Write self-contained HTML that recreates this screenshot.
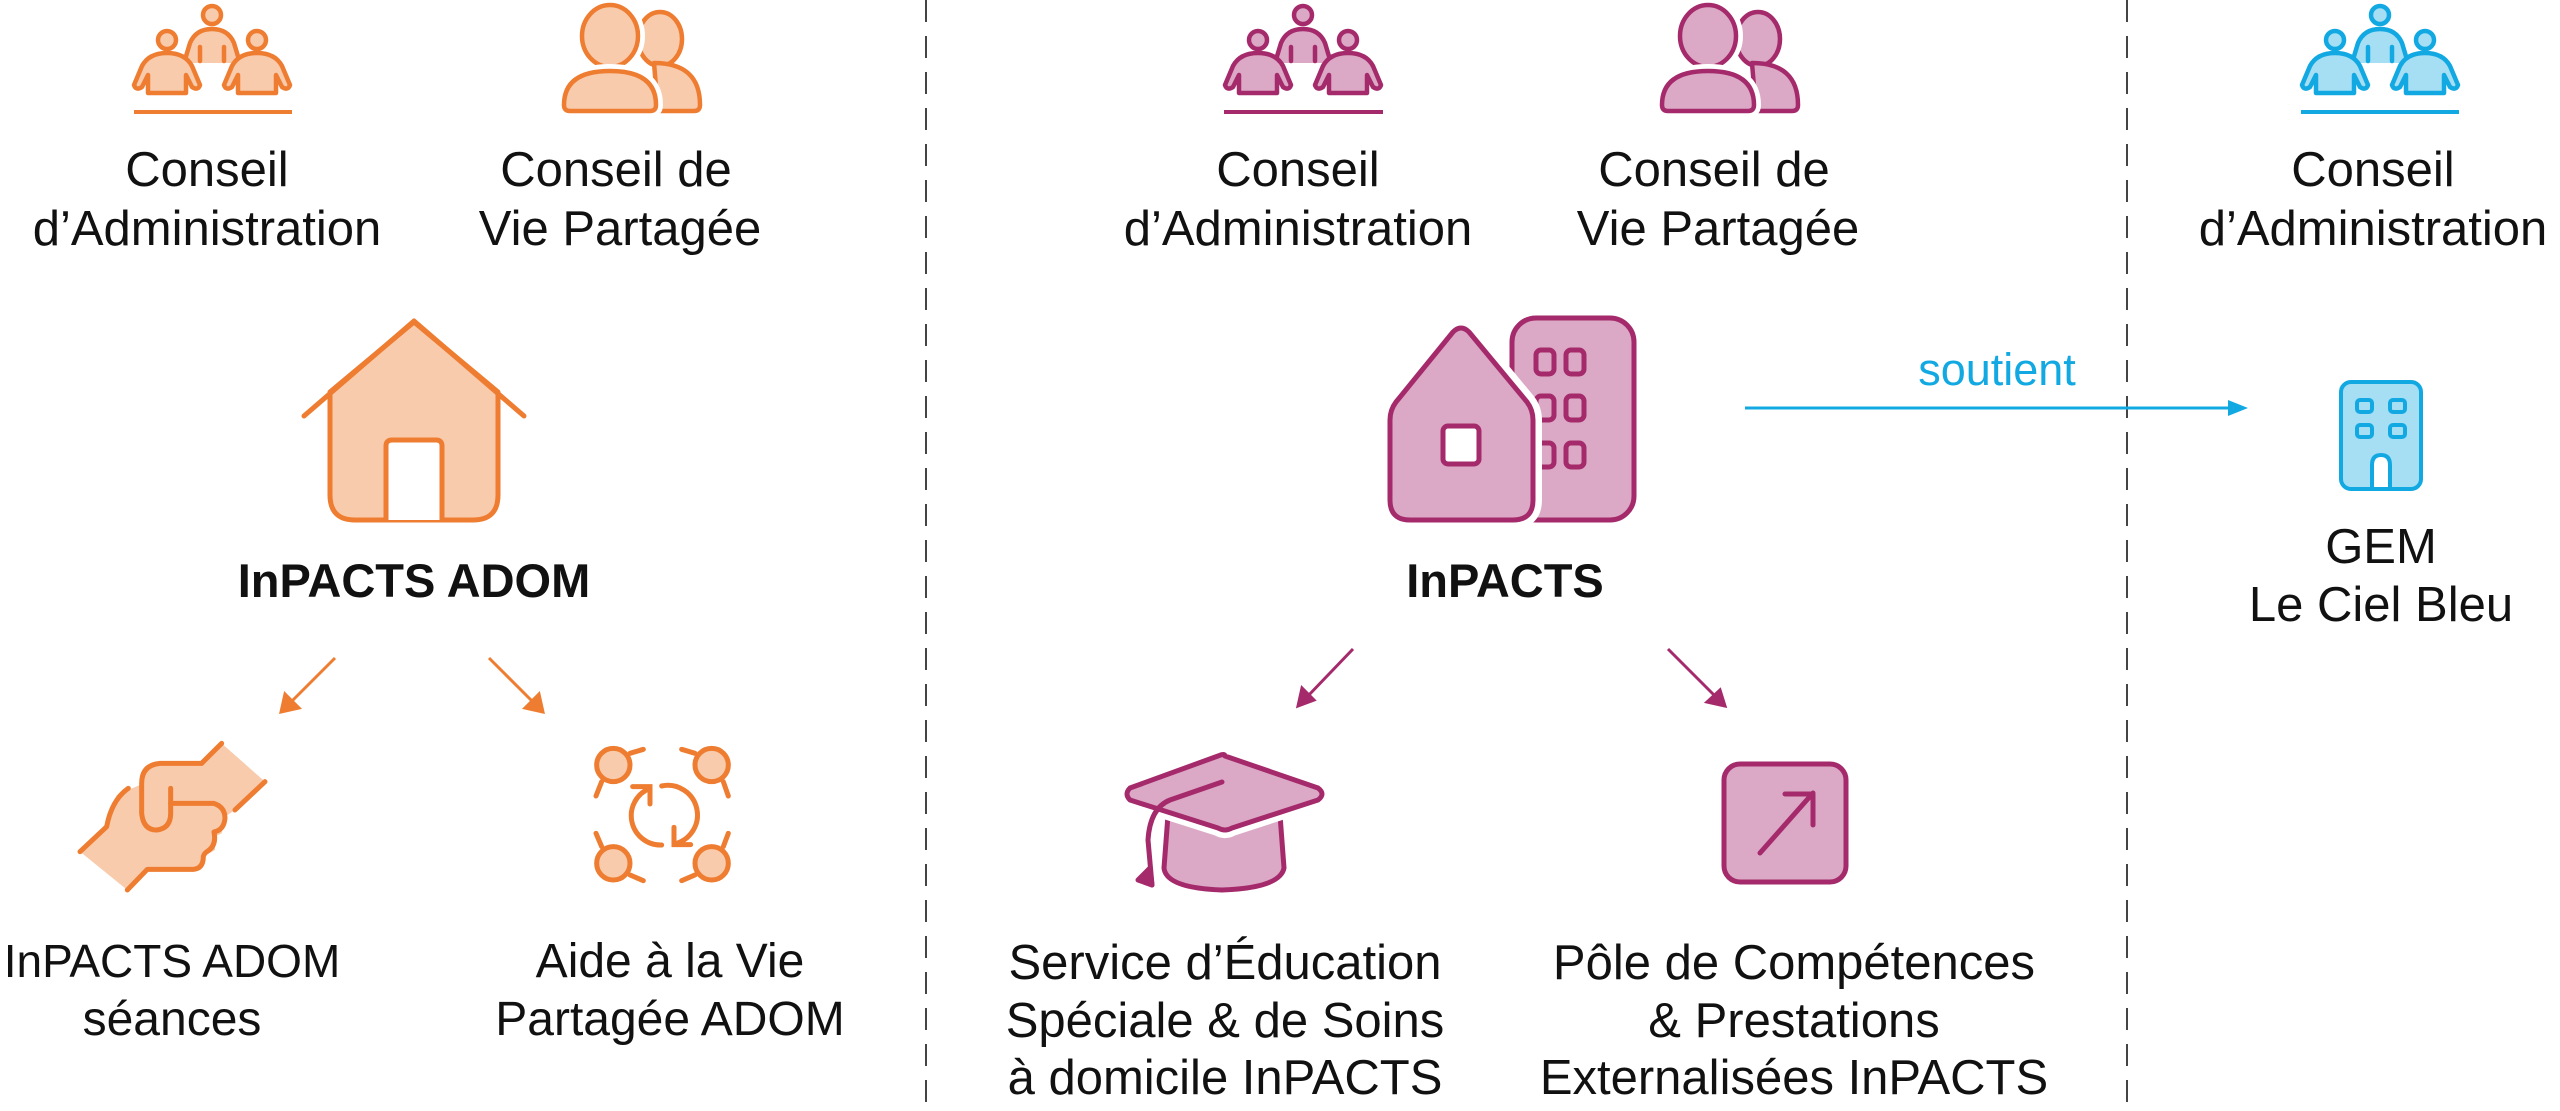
<!DOCTYPE html>
<html><head><meta charset="utf-8"><style>
html,body{margin:0;padding:0;background:#fff;}
svg{display:block;}
text{font-family:"Liberation Sans",sans-serif;fill:#111;}
</style></head><body>
<svg width="2560" height="1111" viewBox="0 0 2560 1111" xmlns="http://www.w3.org/2000/svg">
<defs>
<g id="people">
  <circle cx="0" cy="12" r="9"/>
  <path d="M-28,60 L-22,40 Q-16,26 0,26 Q16,26 22,40 L28,60 M-12,44 L-12,58 M12,44 L12,58"/>
  <circle cx="-45" cy="37" r="9"/>
  <path d="M-78,82 L-70,63 Q-63,50 -45,50 Q-27,50 -20,63 L-12,82 Q-14,88 -20,84 L-26,72 L-26,90 L-64,90 L-64,72 L-70,84 Q-76,88 -78,82 Z"/>
  <circle cx="45" cy="37" r="9"/>
  <path d="M12,82 L20,63 Q27,50 45,50 Q63,50 70,63 L78,82 Q76,88 70,84 L64,72 L64,90 L26,90 L26,72 L20,84 Q14,88 12,82 Z"/>
</g>
</defs>

<!-- dashed separators -->
<line x1="926" y1="0" x2="926" y2="1111" stroke="#444" stroke-width="2" stroke-dasharray="22,14"/>
<line x1="2127" y1="0" x2="2127" y2="1111" stroke="#444" stroke-width="2" stroke-dasharray="22,14"/>

<!-- ===== Left column ===== -->
<g transform="translate(212,3)" fill="#F8CBAD" stroke="#EE7D31" stroke-width="4.5" stroke-linejoin="round" stroke-linecap="round"><use href="#people"/></g>
<line x1="134" y1="112" x2="292" y2="112" stroke="#EE7D31" stroke-width="4"/>
<text x="207" y="186" font-size="49" text-anchor="middle">Conseil</text>
<text x="207" y="245" font-size="49" text-anchor="middle">d’Administration</text>

<g transform="translate(618,85)" stroke-linejoin="round" stroke-linecap="round">
  <ellipse cx="42" cy="-46" rx="22" ry="27" fill="#F8CBAD" stroke="#EE7D31" stroke-width="4.5"/>
  <path d="M36,-22 Q82,-22 82,20 Q82,26 76,26 L40,26 Z" fill="#F8CBAD" stroke="#EE7D31" stroke-width="4.5"/>
  <ellipse cx="-8" cy="-49" rx="28" ry="31" fill="#F8CBAD" stroke="#fff" stroke-width="14"/>
  <ellipse cx="-8" cy="-49" rx="28" ry="31" fill="#F8CBAD" stroke="#EE7D31" stroke-width="4.5"/>
  <path d="M-54,20 Q-54,-14 -8,-14 Q38,-14 38,20 Q38,26 32,26 L-48,26 Q-54,26 -54,20 Z" fill="#F8CBAD" stroke="#fff" stroke-width="14"/>
  <path d="M-54,20 Q-54,-14 -8,-14 Q38,-14 38,20 Q38,26 32,26 L-48,26 Q-54,26 -54,20 Z" fill="#F8CBAD" stroke="#EE7D31" stroke-width="4.5"/>
</g>
<text x="616" y="186" font-size="49" text-anchor="middle">Conseil de</text>
<text x="620" y="245" font-size="49" text-anchor="middle">Vie Partagée</text>

<!-- house -->
<g stroke="#EE7D31" stroke-width="5" stroke-linejoin="round" stroke-linecap="round">
  <path d="M330,392 L414,322 L498,392 L498,495 Q498,520 473,520 L355,520 Q330,520 330,495 Z" fill="#F8CBAD"/>
  <path d="M304,416 L414,321 L524,416" fill="none"/>
  <path d="M386,520 L386,446 Q386,440 392,440 L436,440 Q442,440 442,446 L442,520" fill="#fff"/>
</g>
<text x="414" y="597" font-size="47" font-weight="bold" text-anchor="middle">InPACTS ADOM</text>

<g stroke="#EE7D31" stroke-width="3" fill="#EE7D31">
  <line x1="335" y1="658" x2="289" y2="704"/><path d="M281,712 L285,694 L299,708 Z"/>
  <line x1="489" y1="658" x2="535" y2="704"/><path d="M543,712 L525,708 L539,694 Z"/>
</g>

<!-- handshake -->
<g transform="translate(40,720) scale(0.3333)" stroke="#EE7D31" stroke-width="15" stroke-linejoin="round" stroke-linecap="round">
  <path d="M545,70 L675,185 L585,270 L555,290 L545,340 L525,350 L525,390 L490,410 L475,445 L320,450 L262,510 L120,395 L200,320 L230,225 L300,195 L330,135 L485,130 Z" fill="#F8CBAD" stroke="none"/>
  <path d="M485,130 L545,70 M675,185 L585,270" fill="none"/>
  <path d="M120,395 L200,320 Q215,240 265,205" fill="none"/>
  <path d="M485,130 L360,130 Q305,135 305,190 L305,280 Q310,330 350,330 Q392,325 392,280 L392,205" fill="none"/>
  <path d="M392,250 L520,250 Q555,260 555,295 Q552,330 522,336 Q530,375 505,392 Q492,400 490,410 Q490,446 460,448 L322,448 L262,510" fill="none"/>
</g>
<text x="172" y="977" font-size="46" text-anchor="middle">InPACTS ADOM</text>
<text x="172" y="1035" font-size="48" text-anchor="middle">séances</text>

<!-- network -->
<g transform="translate(570,720) scale(0.3333)" stroke="#EE7D31" stroke-width="15" stroke-linecap="round" fill="none">
  <circle cx="130" cy="135" r="50" fill="#F8CBAD"/>
  <circle cx="425" cy="135" r="50" fill="#F8CBAD"/>
  <circle cx="130" cy="430" r="50" fill="#F8CBAD"/>
  <circle cx="425" cy="430" r="50" fill="#F8CBAD"/>
  <path d="M180,100 L220,88 M95,185 L78,228 M375,100 L335,88 M460,185 L475,228 M95,380 L78,340 M180,465 L220,482 M460,380 L475,340 M375,465 L335,482"/>
  <path d="M240,205 A88,88 0 0 0 275,375"/>
  <path d="M188,200 L240,200 L240,252"/>
  <path d="M275,198 A88,88 0 0 1 312,372"/>
  <path d="M312,322 L312,374 L362,374"/>
</g>
<text x="670" y="977" font-size="48" text-anchor="middle">Aide à la Vie</text>
<text x="670" y="1035" font-size="48" text-anchor="middle">Partagée ADOM</text>

<!-- ===== Middle column ===== -->
<g transform="translate(1303,3)" fill="#DBA9C5" stroke="#A52A6B" stroke-width="4.5" stroke-linejoin="round" stroke-linecap="round"><use href="#people"/></g>
<line x1="1224" y1="112" x2="1383" y2="112" stroke="#A52A6B" stroke-width="4"/>
<text x="1298" y="186" font-size="49" text-anchor="middle">Conseil</text>
<text x="1298" y="245" font-size="49" text-anchor="middle">d’Administration</text>

<g transform="translate(1716,85)" stroke-linejoin="round" stroke-linecap="round">
  <ellipse cx="42" cy="-46" rx="22" ry="27" fill="#DBA9C5" stroke="#A52A6B" stroke-width="4.5"/>
  <path d="M36,-22 Q82,-22 82,20 Q82,26 76,26 L40,26 Z" fill="#DBA9C5" stroke="#A52A6B" stroke-width="4.5"/>
  <ellipse cx="-8" cy="-49" rx="28" ry="31" fill="#DBA9C5" stroke="#fff" stroke-width="14"/>
  <ellipse cx="-8" cy="-49" rx="28" ry="31" fill="#DBA9C5" stroke="#A52A6B" stroke-width="4.5"/>
  <path d="M-54,20 Q-54,-14 -8,-14 Q38,-14 38,20 Q38,26 32,26 L-48,26 Q-54,26 -54,20 Z" fill="#DBA9C5" stroke="#fff" stroke-width="14"/>
  <path d="M-54,20 Q-54,-14 -8,-14 Q38,-14 38,20 Q38,26 32,26 L-48,26 Q-54,26 -54,20 Z" fill="#DBA9C5" stroke="#A52A6B" stroke-width="4.5"/>
</g>
<text x="1714" y="186" font-size="49" text-anchor="middle">Conseil de</text>
<text x="1718" y="245" font-size="49" text-anchor="middle">Vie Partagée</text>

<!-- house + building -->
<g stroke="#A52A6B" stroke-width="5" stroke-linejoin="round">
  <rect x="1512" y="318" width="122" height="202" rx="24" fill="#DBA9C5"/>
  <g fill="#DBA9C5">
    <rect x="1536" y="350" width="18" height="24" rx="5"/><rect x="1566" y="350" width="18" height="24" rx="5"/>
    <rect x="1536" y="396" width="18" height="24" rx="5"/><rect x="1566" y="396" width="18" height="24" rx="5"/>
    <rect x="1536" y="443" width="18" height="24" rx="5"/><rect x="1566" y="443" width="18" height="24" rx="5"/>
  </g>
  <path d="M1390,420 Q1390,410 1396,402 L1453,332 Q1461,324 1469,332 L1527,402 Q1533,410 1533,420 L1533,500 Q1533,520 1513,520 L1410,520 Q1390,520 1390,500 Z" fill="#DBA9C5" stroke="#fff" stroke-width="18"/>
  <path d="M1390,420 Q1390,410 1396,402 L1453,332 Q1461,324 1469,332 L1527,402 Q1533,410 1533,420 L1533,500 Q1533,520 1513,520 L1410,520 Q1390,520 1390,500 Z" fill="#DBA9C5"/>
  <rect x="1443" y="426" width="36" height="38" rx="5" fill="#fff"/>
</g>
<text x="1505" y="597" font-size="47" font-weight="bold" text-anchor="middle">InPACTS</text>

<g stroke="#A52A6B" stroke-width="3" fill="#A52A6B">
  <line x1="1353" y1="649" x2="1306" y2="698"/><path d="M1298,706 L1302,688 L1314,700 Z"/>
  <line x1="1668" y1="649" x2="1717" y2="698"/><path d="M1725,706 L1707,702 L1720,690 Z"/>
</g>

<!-- grad cap -->
<g stroke="#A52A6B" stroke-width="5" stroke-linejoin="round" stroke-linecap="round">
  <path d="M1168,815 L1164,868 Q1166,888 1222,890 Q1280,888 1284,868 L1280,815 Z" fill="#DBA9C5"/>
  <path d="M1225,756 L1318,788 Q1326,794 1318,800 L1232,828 Q1225,832 1218,828 L1130,800 Q1124,794 1130,788 L1218,756 Q1225,753 1225,756 Z" fill="#DBA9C5" stroke="#fff" stroke-width="16"/>
  <path d="M1225,756 L1318,788 Q1326,794 1318,800 L1232,828 Q1225,832 1218,828 L1130,800 Q1124,794 1130,788 L1218,756 Q1225,753 1225,756 Z" fill="#DBA9C5"/>
  <path d="M1222,782 L1170,800 Q1150,808 1148,840 L1152,885" fill="none"/>
  <path d="M1138,880 L1152,885 L1150,868 Z" fill="#A52A6B"/>
</g>
<text x="1225" y="979" font-size="49" text-anchor="middle">Service d’Éducation</text>
<text x="1225" y="1037" font-size="49" text-anchor="middle">Spéciale &amp; de Soins</text>
<text x="1225" y="1094" font-size="49" text-anchor="middle">à domicile InPACTS</text>

<!-- square arrow -->
<g stroke="#A52A6B" stroke-width="5" stroke-linecap="round" stroke-linejoin="round">
  <rect x="1724" y="764" width="122" height="118" rx="16" fill="#DBA9C5"/>
  <path d="M1760,853 L1813,793 M1785,794 L1813,794 L1813,825" fill="none"/>
</g>
<text x="1794" y="979" font-size="49" text-anchor="middle">Pôle de Compétences</text>
<text x="1794" y="1037" font-size="49" text-anchor="middle">&amp; Prestations</text>
<text x="1794" y="1094" font-size="49" text-anchor="middle">Externalisées InPACTS</text>

<!-- soutient -->
<line x1="1745" y1="408" x2="2230" y2="408" stroke="#12A9E3" stroke-width="3"/>
<path d="M2248,408 L2228,400 L2228,416 Z" fill="#12A9E3"/>
<text x="1997" y="385" font-size="45" text-anchor="middle" style="fill:#12A9E3">soutient</text>

<!-- ===== Right column ===== -->
<g transform="translate(2380,3)" fill="#A6DEF4" stroke="#12A9E3" stroke-width="4.5" stroke-linejoin="round" stroke-linecap="round"><use href="#people"/></g>
<line x1="2301" y1="112" x2="2459" y2="112" stroke="#12A9E3" stroke-width="4"/>
<text x="2373" y="186" font-size="49" text-anchor="middle">Conseil</text>
<text x="2373" y="245" font-size="49" text-anchor="middle">d’Administration</text>

<g stroke="#12A9E3" stroke-width="4" stroke-linejoin="round">
  <rect x="2341" y="382" width="80" height="107" rx="10" fill="#A6DEF4"/>
  <rect x="2357" y="400" width="15" height="12" rx="3" fill="#A6DEF4"/><rect x="2390" y="400" width="15" height="12" rx="3" fill="#A6DEF4"/>
  <rect x="2357" y="425" width="15" height="12" rx="3" fill="#A6DEF4"/><rect x="2390" y="425" width="15" height="12" rx="3" fill="#A6DEF4"/>
  <path d="M2372,489 L2372,465 Q2372,455 2381,455 Q2390,455 2390,465 L2390,489 Z" fill="#fff"/>
</g>
<text x="2381" y="563" font-size="49" text-anchor="middle">GEM</text>
<text x="2381" y="621" font-size="49" text-anchor="middle">Le Ciel Bleu</text>
</svg>
</body></html>
